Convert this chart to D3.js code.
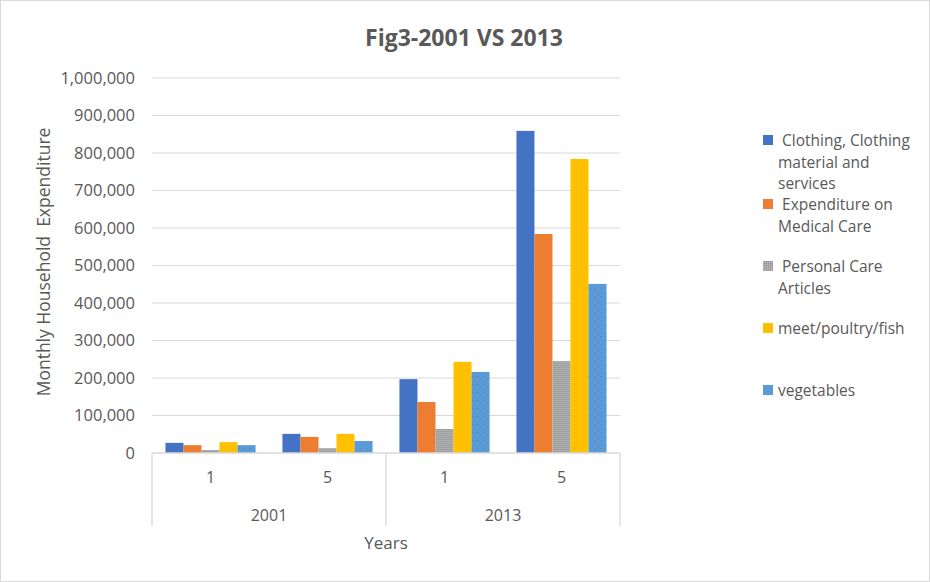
<!DOCTYPE html>
<html>
<head>
<meta charset="utf-8">
<script src="https://cdn.jsdelivr.net/npm/d3@7"></script>
<style>
  body { margin: 0; background: #fff; }
  text { font-family: "Open Sans", sans-serif; fill: #595959; }
</style>
</head>
<body>
<script>
var years = ["2001", "2013"];
var subGroups = ["1", "5"];
var seriesNames = [" Clothing, Clothing material and services", " Expenditure on Medical Care", " Personal Care Articles", "meet/poultry/fish", "vegetables"];
var clothing = [27000, 51000, 197000, 859000];
var medical = [21000, 43000, 136000, 584000];
var personal = [8000, 13000, 64000, 245000];
var meat = [29000, 51000, 243000, 784000];
var vegetables = [21000, 32000, 216000, 451000];
var yTicks = [0, 100000, 200000, 300000, 400000, 500000, 600000, 700000, 800000, 900000, 1000000];
var colors = ["#4472c4", "#ed7d31", "url(#grayPat)", "#ffc000", "url(#bluePat)"];
var swatch = ["#4472c4", "#ed7d31", "url(#grayPat)", "#ffc000", "#5b9bd5"];

var WIDTH = 930, HEIGHT = 582;
var LEFT = 152, RIGHT = 620, TOP = 78, BOTTOM = 453;

var series = [clothing, medical, personal, meat, vegetables];
var groups = [];
years.forEach(function (y) { subGroups.forEach(function (s) { groups.push(y + "-" + s); }); });

var svg = d3.select("body").append("svg")
  .attr("width", WIDTH).attr("height", HEIGHT);

var defs = svg.append("defs");
var gp = defs.append("pattern").attr("id", "grayPat").attr("patternUnits", "userSpaceOnUse")
  .attr("width", 2).attr("height", 2);
gp.append("rect").attr("width", 2).attr("height", 2).attr("fill", "#a5a5a5");
gp.append("rect").attr("width", 1).attr("height", 1).attr("fill", "#b8b8b8");
gp.append("rect").attr("x", 1).attr("y", 1).attr("width", 1).attr("height", 1).attr("fill", "#999");
var bp = defs.append("pattern").attr("id", "bluePat").attr("patternUnits", "userSpaceOnUse")
  .attr("width", 6).attr("height", 8);
bp.append("rect").attr("width", 6).attr("height", 8).attr("fill", "#5b9bd5");
bp.append("rect").attr("x", 0).attr("y", 0).attr("width", 1).attr("height", 1).attr("fill", "#3f7fbf");

svg.append("rect").attr("x", 0.5).attr("y", 0.5).attr("width", WIDTH - 1).attr("height", HEIGHT - 1)
  .attr("fill", "#fff").attr("stroke", "#d9d9d9");

var x0 = d3.scaleBand().domain(groups).range([LEFT, RIGHT]).paddingInner(0.23).paddingOuter(0.115);
var x1 = d3.scaleBand().domain(d3.range(series.length)).range([0, x0.bandwidth()]);
var xYear = d3.scaleBand().domain(years).range([LEFT, RIGHT]);
var y = d3.scaleLinear().domain([0, 1000000]).range([BOTTOM, TOP]);

// gridlines
svg.append("g").selectAll("line").data(yTicks.slice(1)).enter().append("line")
  .attr("x1", LEFT).attr("x2", RIGHT)
  .attr("y1", function (d) { return y(d); }).attr("y2", function (d) { return y(d); })
  .attr("stroke", "#d9d9d9").attr("stroke-width", 1);

// y axis labels
var yAxis = d3.axisLeft(y).tickValues(yTicks).tickSize(0).tickPadding(17)
  .tickFormat(d3.format(","));
var ya = svg.append("g").attr("transform", "translate(" + LEFT + ",0)").call(yAxis);
ya.select(".domain").remove();
ya.selectAll("text").style("font-size", "16.5px").style("fill", "#595959")
  .style("font-family", "'Open Sans', sans-serif");

// bars
svg.append("g").selectAll("g").data(groups).enter().append("g")
  .attr("transform", function (g) { return "translate(" + x0(g) + ",0)"; })
  .selectAll("rect")
  .data(function (g, gi) { return series.map(function (s, si) { return { si: si, v: s[gi] }; }); })
  .enter().append("rect")
  .attr("x", function (d) { return x1(d.si); })
  .attr("width", x1.bandwidth())
  .attr("y", function (d) { return y(d.v); })
  .attr("height", function (d) { return BOTTOM - y(d.v); })
  .attr("fill", function (d) { return colors[d.si]; });

// category axis box
var axisG = svg.append("g").attr("stroke", "#d9d9d9").attr("stroke-width", 1.3);
axisG.append("line").attr("x1", LEFT).attr("x2", RIGHT).attr("y1", BOTTOM).attr("y2", BOTTOM);
[LEFT, xYear("2013"), RIGHT].forEach(function (xx) {
  axisG.append("line").attr("x1", xx).attr("x2", xx).attr("y1", BOTTOM).attr("y2", 526);
});

svg.append("g").selectAll("text").data(groups).enter().append("text")
  .attr("x", function (g) { return x0(g) + x0.bandwidth() / 2; })
  .attr("y", 483)
  .attr("text-anchor", "middle").style("font-size", "16px")
  .text(function (g) { return g.split("-")[1]; });

svg.append("g").selectAll("text").data(years).enter().append("text")
  .attr("x", function (d) { return xYear(d) + xYear.bandwidth() / 2; })
  .attr("y", 521)
  .attr("text-anchor", "middle").style("font-size", "16px")
  .text(function (d) { return d; });

// titles
svg.append("text").attr("x", 464).attr("y", 46).attr("text-anchor", "middle")
  .style("font-size", "23px").style("font-weight", "bold").text("Fig3-2001 VS 2013");
svg.append("text").attr("x", 386).attr("y", 549).attr("text-anchor", "middle")
  .style("font-size", "17px").text("Years");
svg.append("text").attr("transform", "translate(50,262) rotate(-90)").attr("text-anchor", "middle")
  .style("font-size", "17.5px").attr("xml:space", "preserve")
  .text("Monthly Household  Expenditure");

// legend
var legendY = [140, 204, 266, 328, 390];
var leg = svg.append("g");
seriesNames.forEach(function (name, i) {
  var g = leg.append("g").attr("transform", "translate(763," + legendY[i] + ")");
  g.append("rect").attr("x", 0).attr("y", -5).attr("width", 10).attr("height", 10)
    .attr("fill", swatch[i]);
  var t = g.append("text").attr("x", 15).attr("y", 6).style("font-size", "15.5px")
    .attr("xml:space", "preserve");
  var words = name.split(" ");
  var line = [];
  var ts = t.append("tspan").attr("x", 15).attr("dy", 0);
  words.forEach(function (w) {
    line.push(w);
    ts.text(line.join(" "));
    if (ts.node().getComputedTextLength() > 145 && line.length > 1) {
      line.pop();
      ts.text(line.join(" "));
      line = [w];
      ts = t.append("tspan").attr("x", 15).attr("dy", 21.5).text(w);
    }
  });
});
</script>
</body>
</html>
